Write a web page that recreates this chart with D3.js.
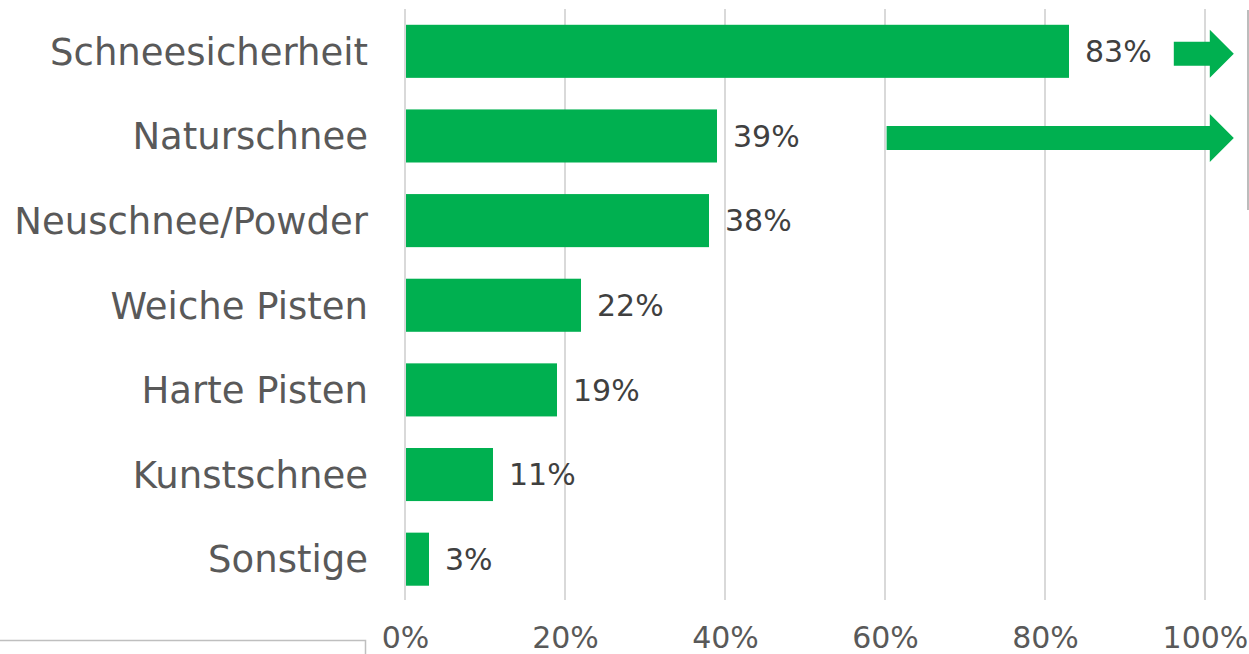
<!DOCTYPE html>
<html><head><meta charset="utf-8">
<script src="https://cdn.jsdelivr.net/npm/d3@7"></script>
<style>html,body{margin:0;padding:0;background:#fff;}svg{display:block;}</style>
</head><body>
<svg id="chart" width="1249" height="654"></svg>
<script>
const categories = ["Schneesicherheit","Naturschnee","Neuschnee/Powder","Weiche Pisten","Harte Pisten","Kunstschnee","Sonstige"];
const values = [83,39,38,22,19,11,3];
const tickValues = [0,20,40,60,80,100];
const tickLabels = ["0%","20%","40%","60%","80%","100%"];
// decorative arrows: [category, start %]
const arrowCats = ["Schneesicherheit","Naturschnee"];
const arrowStarts = [96.1,60.2];

const svg = d3.select("#chart");
const x = d3.scaleLinear().domain([0,100]).range([405,1205]);
const y = d3.scaleBand().domain(categories).range([9,601.5]).paddingInner(0.373).paddingOuter(0.1865);
const font = "DejaVu Sans, Verdana, sans-serif";

// gridlines
svg.append("g").selectAll("line").data(tickValues).join("line")
  .attr("x1",d=>x(d)).attr("x2",d=>x(d)).attr("y1",9).attr("y2",600)
  .attr("stroke","#d9d9d9").attr("stroke-width",2);

// bars
svg.append("g").selectAll("rect").data(values).join("rect")
  .attr("x",x(0)+1).attr("y",(d,i)=>y(categories[i]))
  .attr("width",d=>x(d)-x(0)-1).attr("height",y.bandwidth())
  .attr("fill","#00b050");

// value labels
svg.append("g").selectAll("text").data(values).join("text")
  .attr("x",d=>x(d)+16).attr("y",(d,i)=>y(categories[i])+y.bandwidth()/2)
  .attr("dy","0.36em").attr("font-family",font).attr("font-size",30)
  .attr("fill","#404040").text(d=>d+"%");

// category labels
svg.append("g").selectAll("text").data(categories).join("text")
  .attr("x",368).attr("y",d=>y(d)+y.bandwidth()/2)
  .attr("dy","0.36em").attr("text-anchor","end").attr("font-family",font).attr("font-size",37)
  .attr("fill","#595959").text(d=>d);

// x tick labels
const xAxis = d3.axisBottom(x).tickValues(tickValues).tickFormat((d,i)=>tickLabels[i]).tickSize(0).tickPadding(0);
const ax = svg.append("g").attr("transform","translate(0,627)").call(xAxis);
ax.select(".domain").remove();
ax.selectAll("text").attr("font-family",font).attr("font-size",30).attr("fill","#595959").attr("dy","0.71em");

// arrows
const headBase = 100.6, tip = 103.6;
arrowCats.forEach((c,i)=>{
  const cy = y(c)+y.bandwidth()/2 + (i===0?2.5:2);
  const x0 = x(arrowStarts[i]), xb = x(headBase), xt = x(tip);
  const pts = [[x0,cy-12],[xb,cy-12],[xb,cy-24],[xt,cy],[xb,cy+24],[xb,cy+12],[x0,cy+12]];
  svg.append("path").attr("d","M"+pts.map(p=>p.join(",")).join("L")+"Z").attr("fill","#00b050");
});

// right vertical line
svg.append("line").attr("x1",1248).attr("x2",1248).attr("y1",10).attr("y2",210)
  .attr("stroke","#a6a6a6").attr("stroke-width",1.5);

// bottom-left line with tick
svg.append("path").attr("d","M0,640.5L365.5,640.5L365.5,654").attr("fill","none")
  .attr("stroke","#bfbfbf").attr("stroke-width",1.5);
</script>
</body></html>
